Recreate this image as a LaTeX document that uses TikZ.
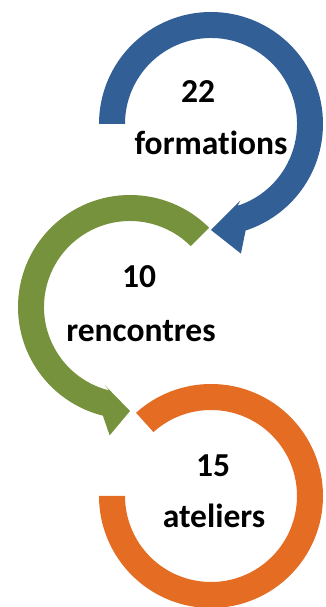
\documentclass[tikz,border=0pt]{standalone}
\usepackage{fontspec}
\setmainfont[Ligatures=NoCommon]{Carlito}
\usepackage{tikz}
\pgfdeclarelayer{edgelayer}
\pgfdeclarelayer{nodelayer}
\pgfsetlayers{edgelayer,nodelayer,main}
\definecolor{ringblue}{RGB}{50,95,150}
\definecolor{ringgreen}{RGB}{118,146,60}
\definecolor{ringorange}{RGB}{228,108,35}
\tikzstyle{none}=[inner sep=0pt]
\tikzstyle{word}=[inner sep=0pt,anchor=base,font=\fontsize{33.5}{33.5}\selectfont\bfseries]

\begin{document}
\begin{tikzpicture}[x=1pt,y=1pt]
	\useasboundingbox (0,0) rectangle (325,607);
	\begin{pgfonlayer}{nodelayer}
		\coordinate (0) at (211, 483);
		\coordinate (1) at (130, 300);
		\coordinate (2) at (211, 111);
		\node [style=word] (3) at (198, 504) {22};
		\node [style=word] (4) at (211, 452) {formations};
		\node [style=word] (5) at (139, 319) {10};
		\node [style=word] (6) at (141, 265) {rencontres};
		\node [style=word] (7) at (213, 130) {15};
		\node [style=word] (8) at (214, 79) {ateliers};
	\end{pgfonlayer}
	\begin{pgfonlayer}{edgelayer}
		\fill [ringblue, shift={(0)}] (180:112pt) arc [start angle=180, end angle=-72, radius=112pt] -- (-77:133pt) -- (-90:106pt) -- (-69:82pt) -- (-72:86pt) arc [start angle=-72, end angle=180, radius=86pt] -- cycle;
		\fill [ringgreen, shift={(1)}] (45:112pt) arc [start angle=45, end angle=256, radius=112pt] -- (261:130pt) -- (270:104pt) -- (252:82pt) -- (256:86pt) arc [start angle=256, end angle=45, radius=86pt] -- cycle;
		\fill [ringorange, shift={(2)}] (180:112pt) arc [start angle=180, end angle=492, radius=112pt] -- (132:86pt) arc [start angle=492, end angle=180, radius=86pt] -- cycle;
	\end{pgfonlayer}
\end{tikzpicture}
\end{document}
